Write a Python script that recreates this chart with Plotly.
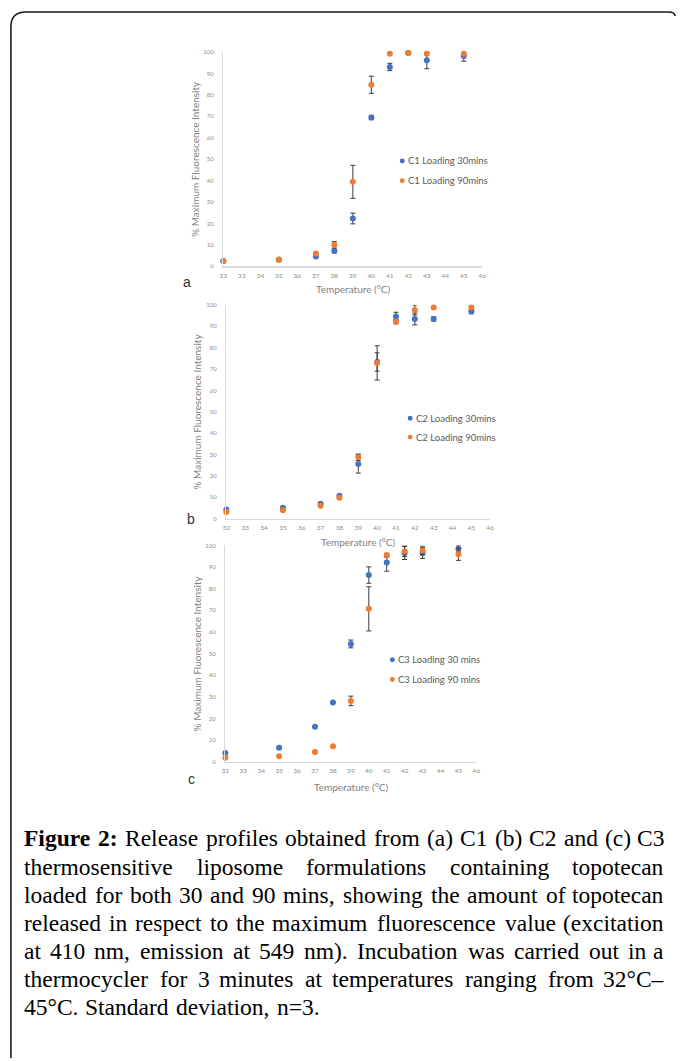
import plotly.graph_objects as go

# ---------------- data ----------------
temps = [32, 35, 37, 38, 39, 40, 41, 42, 43, 45]

c1_30 = [2.5, 3.0, 4.6, 7.1, 22.3, 69.4, 93.0, 99.5, 96.1, 98.1]
c1_30_sd = [0, 0, 0, 0.8, 2.5, 1.0, 1.7, 0, 3.9, 2.4]
c1_90 = [2.5, 3.1, 6.0, 10.0, 39.4, 84.7, 99.2, 99.5, 99.2, 99.2]
c1_90_sd = [0, 0, 0, 1.5, 7.7, 4.0, 0, 0, 0.5, 0.8]

c2_30 = [4.2, 5.1, 7.0, 10.7, 25.6, 73.3, 94.6, 93.5, 93.5, 96.9]
c2_30_sd = [0, 0, 0, 0, 4.3, 4.3, 2.0, 2.8, 1.0, 1.0]
c2_90 = [3.1, 3.9, 6.0, 9.8, 28.7, 72.9, 92.2, 97.7, 98.8, 98.8]
c2_90_sd = [0, 0, 0, 0, 1.5, 8.0, 1.0, 2.3, 0.5, 1.0]

c3_30 = [4.1, 6.6, 16.3, 27.5, 54.5, 86.3, 92.1, 96.5, 96.5, 98.5]
c3_30_sd = [0, 0, 0, 0, 1.8, 3.8, 4.0, 3.0, 2.5, 1.5]
c3_90 = [2.0, 2.6, 4.6, 7.3, 28.2, 70.7, 95.4, 97.3, 97.7, 95.9]
c3_90_sd = [0, 0, 0, 0, 2.2, 10.2, 1.0, 2.5, 2.0, 2.8]

x_ticks = list(range(32, 47))
y_ticks = list(range(0, 101, 10))

series_names = [
    ("C1 Loading 30mins", "C1 Loading 90mins"),
    ("C2 Loading 30mins", "C2 Loading 90mins"),
    ("C3 Loading 30 mins", "C3 Loading 90 mins"),
]
panel_letters = ["a", "b", "c"]
x_title = "Temperature (°C)"
y_title = "% Maximum Fluorescence Intensity"

caption_lines = [
    [("Figure", True), ("2:", True), ("Release", False), ("profiles", False), ("obtained", False),
     ("from", False), ("(a)", False), ("C1", False), ("(b)", False), ("C2", False), ("and", False),
     ("(c)", False), ("C3", False)],
    "thermosensitive liposome formulations containing topotecan",
    "loaded for both 30 and 90 mins, showing the amount of topotecan",
    "released in respect to the maximum fluorescence value (excitation",
    "at 410 nm, emission at 549 nm). Incubation was carried out in a",
    "thermocycler for 3 minutes at temperatures ranging from 32°C–",
    "45°C. Standard deviation, n=3.",
]

# ---------------- layout helpers ----------------
W, H = 680, 1061
BLUE = "#4472C4"
ORANGE = "#ED7D31"


def px(x):
    return x / W


def py(y):
    return 1 - y / H


# pixel boxes of the three panels: (left, right, top, bottom)
panels = [
    (222, 484, 48.3, 264),
    (225, 492, 303, 518),
    (224, 478, 545, 763),
]
legend_pos = [(403, 158, 178), (411, 417, 436), (393, 660, 680)]
letter_pos = [(185, 280), (189, 518), (190, 780)]
xtitle_y = [287, 542, 788]
ytitle_x = [193, 195, 195]

data_sets = [
    (c1_30, c1_30_sd, c1_90, c1_90_sd),
    (c2_30, c2_30_sd, c2_90, c2_90_sd),
    (c3_30, c3_30_sd, c3_90, c3_90_sd),
]

fig = go.Figure()
annotations = []
shapes = []

for i, (ds, box) in enumerate(zip(data_sets, panels)):
    s = "" if i == 0 else str(i + 1)
    l, r, t, b = box
    for vals, sd, col, name in [(ds[0], ds[1], BLUE, series_names[i][0]),
                                (ds[2], ds[3], ORANGE, series_names[i][1])]:
        fig.add_trace(go.Scatter(
            x=temps, y=vals, mode="markers", name=name, showlegend=False,
            xaxis="x" + s, yaxis="y" + s, cliponaxis=False,
            marker=dict(color=col, size=6, symbol="circle"),
            error_y=dict(type="data", array=sd, visible=True, color="#3c3c3c",
                         thickness=1, width=2.5),
        ))
    fig.layout["xaxis" + s] = dict(
        domain=[px(l), px(r)], anchor="y" + s, range=[32, 46],
        tickmode="array", tickvals=x_ticks, ticktext=[str(v) for v in x_ticks],
        showline=True, linecolor="#d9d9d9", linewidth=1.5, showgrid=False,
        zeroline=False, ticks="", tickfont=dict(family="Lato", size=6.5, color="#8c8c8c"),
        ticklabelstandoff=2, fixedrange=True,
    )
    fig.layout["yaxis" + s] = dict(
        domain=[py(b), py(t)], anchor="x" + s, range=[0, 100],
        tickmode="array", tickvals=y_ticks, ticktext=[str(v) for v in y_ticks],
        showline=True, linecolor="#d9d9d9", linewidth=1.5, showgrid=False,
        zeroline=False, ticks="", tickfont=dict(family="Lato", size=6, color="#8c8c8c"),
        ticklabelstandoff=7, fixedrange=True,
    )
    # axis titles
    annotations.append(dict(
        x=px((l + r) / 2), y=py(xtitle_y[i]), xref="paper", yref="paper",
        text=x_title, showarrow=False, xanchor="center", yanchor="middle",
        font=dict(family="Lato", size=10, color="#7f7f7f"),
    ))
    annotations.append(dict(
        x=px(ytitle_x[i]), y=py((t + b) / 2), xref="paper", yref="paper",
        text=y_title, showarrow=False, textangle=-90, xanchor="center", yanchor="middle",
        font=dict(family="Lato", size=10, color="#7f7f7f"),
    ))
    # panel letter
    annotations.append(dict(
        x=px(letter_pos[i][0]), y=py(letter_pos[i][1]), xref="paper", yref="paper",
        text=panel_letters[i], showarrow=False, xanchor="center", yanchor="middle",
        font=dict(family="Liberation Sans", size=14, color="#333333"),
    ))
    # legend (marker dot + text)
    lx, ly1, ly2 = legend_pos[i]
    for yy, col, name in [(ly1, BLUE, series_names[i][0]), (ly2, ORANGE, series_names[i][1])]:
        shapes.append(dict(
            type="circle", xref="paper", yref="paper",
            x0=px(lx - 2.5), x1=px(lx + 2.5), y0=py(yy + 2.5), y1=py(yy - 2.5),
            fillcolor=col, line=dict(width=0),
        ))
        annotations.append(dict(
            x=px(lx + 5), y=py(yy), xref="paper", yref="paper", text=name,
            showarrow=False, xanchor="left", yanchor="middle", borderpad=0,
            font=dict(family="Lato", size=9.5, color="#595959"),
        ))

# ---------------- caption (justified) ----------------
REG = {" ": 250, "a": 444, "b": 500, "c": 444, "d": 500, "e": 444, "f": 333, "g": 500,
       "h": 500, "i": 278, "j": 278, "k": 500, "l": 278, "m": 778, "n": 500, "o": 500,
       "p": 500, "q": 500, "r": 333, "s": 389, "t": 278, "u": 500, "v": 500, "w": 722,
       "x": 500, "y": 500, "z": 444, "C": 667, "I": 333, "S": 556, "R": 667, "F": 556,
       "(": 333, ")": 333, ",": 250, ".": 250, ":": 278, "=": 564, "°": 400, "–": 500}
BOLD = {"F": 611, "i": 278, "g": 500, "u": 556, "r": 444, "e": 444, "2": 500, ":": 333}
for dch in "0123456789":
    REG[dch] = 500

CAP_FS = 23.5
CAP_L, CAP_R = 19, 669
WIDTH_CORR = 1.03
cap_y = [840, 868.3, 896.6, 925, 953.3, 981.6, 1010]


def word_w(wd, bold):
    tab = BOLD if bold else REG
    return sum(tab.get(ch, 500) for ch in wd) / 1000 * CAP_FS * WIDTH_CORR


for li, line in enumerate(caption_lines):
    words = line if isinstance(line, list) else [(w, False) for w in line.split(" ")]
    widths = [word_w(w, bd) for w, bd in words]
    last = li == len(caption_lines) - 1
    if last:
        gap = REG[" "] / 1000 * CAP_FS
    else:
        gap = (CAP_R - CAP_L - sum(widths)) / (len(words) - 1)
    xpos = CAP_L
    for k, ((w, bd), ww) in enumerate(zip(words, widths)):
        is_end = (not last) and k == len(words) - 1
        annotations.append(dict(
            x=px(CAP_R if is_end else xpos), y=py(cap_y[li]), xref="paper", yref="paper",
            text=("<b>%s</b>" % w) if bd else w, showarrow=False,
            xanchor="right" if is_end else "left", yanchor="middle", borderpad=0,
            font=dict(family="Liberation Serif", size=CAP_FS, color="#000000"),
        ))
        xpos += ww + gap

# ---------------- frame ----------------
frame_path = (f"M {px(7)},{py(1061)} L {px(7)},{py(23)} Q {px(7)},{py(8)} {px(22)},{py(8)} "
              f"L {px(672)},{py(8)} Q {px(679)},{py(8)} {px(679)},{py(12)}")
shapes.append(dict(type="path", xref="paper", yref="paper", path=frame_path,
                   line=dict(color="#1a1a1a", width=1.6)))

fig.update_layout(
    width=W, height=H, margin=dict(l=0, r=0, t=0, b=0),
    paper_bgcolor="white", plot_bgcolor="white",
    annotations=annotations, shapes=shapes, showlegend=False,
)

fig.write_html(
    "out.html",
    config={"displayModeBar": False, "staticPlot": True},
    post_script="document.body.style.margin='0';document.body.style.padding='0';"
                "document.body.style.overflow='hidden';",
)
